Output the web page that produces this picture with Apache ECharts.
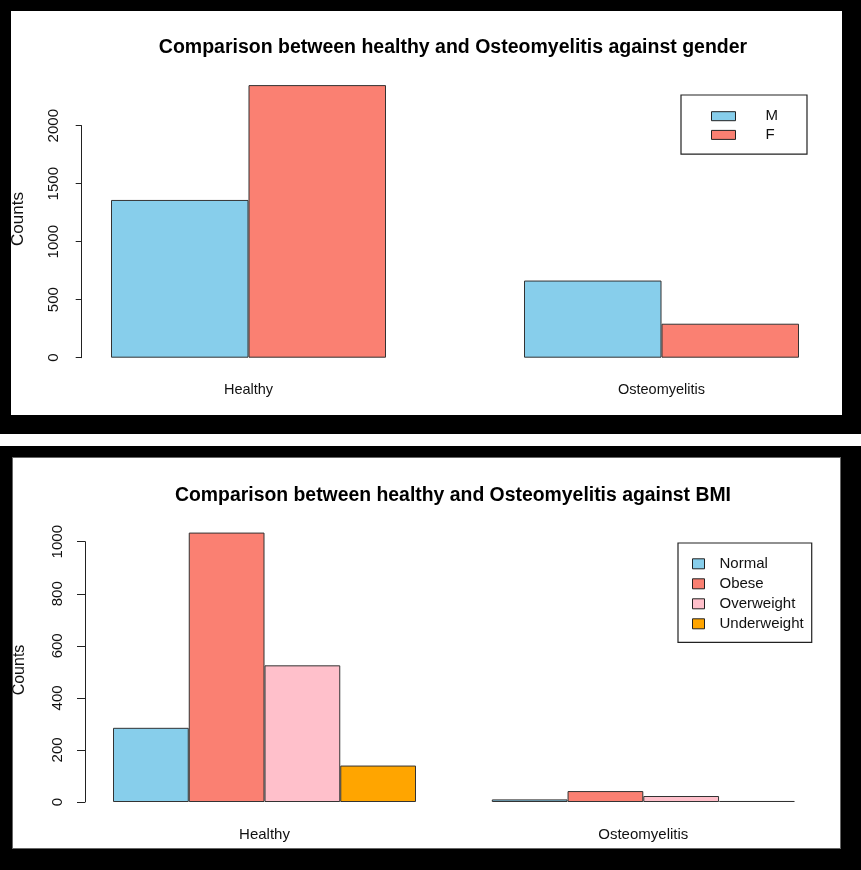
<!DOCTYPE html>
<html>
<head>
<meta charset="utf-8">
<script src="https://cdn.jsdelivr.net/npm/echarts@6/dist/echarts.min.js"></script>
<style>
  html, body { margin: 0; padding: 0; background: #fff; }
  .frame { position: absolute; background: #000; }
  .panel { position: absolute; background: #fff; box-sizing: border-box; }
  #chart { position: absolute; left: 0; top: 0; width: 861px; height: 870px; }
</style>
</head>
<body>
<div class="frame" style="left:0;top:0;width:861px;height:434px"></div>
<div class="panel" style="left:11px;top:11px;width:831px;height:404px"></div>
<div class="frame" style="left:0;top:446px;width:861px;height:424px"></div>
<div class="panel" style="left:12px;top:457px;width:829px;height:392px;border:1px solid #666"></div>
<div id="chart"></div>
<script>
// top chart: gender
const groups = ['Healthy', 'Osteomyelitis'];
const genderNames = ['M', 'F'];
const maleCounts = [1360, 665];
const femaleCounts = [2350, 293];
const genderTicks = { min: 0, max: 2000, interval: 500 };

// bottom chart: BMI
const bmiNames = ['Normal', 'Obese', 'Overweight', 'Underweight'];
const normalCounts = [285, 10];
const obeseCounts = [1035, 42];
const overweightCounts = [525, 23];
const underweightCounts = [140, 4];
const bmiTicks = { min: 0, max: 1000, interval: 200 };

const colors = {
  M: '#87CEEB', F: '#FA8072',
  Normal: '#87CEEB', Obese: '#FA8072', Overweight: '#FFC0CB', Underweight: '#FFA500'
};

const font = 'Liberation Sans, Arial, sans-serif';
const ink = '#111';

const chart = echarts.init(document.getElementById('chart'));

function barSeries(name, values, gridIdx, width) {
  return {
    type: 'bar',
    name: name,
    data: values,
    xAxisIndex: gridIdx,
    yAxisIndex: gridIdx,
    barWidth: width,
    barGap: '0%',
    clip: false,
    silent: true,
    itemStyle: { color: colors[name], borderColor: '#333', borderWidth: 1 }
  };
}

function catAxis(gridIdx, margin, size) {
  return {
    type: 'category',
    gridIndex: gridIdx,
    data: groups,
    boundaryGap: false,
    axisLine: { show: false },
    axisTick: { show: false },
    splitLine: { show: false },
    axisLabel: { margin: margin, fontSize: size, color: ink, fontFamily: font }
  };
}

function valAxis(gridIdx, ticks, offset, tickLen) {
  return {
    type: 'value',
    gridIndex: gridIdx,
    min: ticks.min,
    max: ticks.max,
    interval: ticks.interval,
    offset: offset,
    axisLine: { show: true, lineStyle: { color: '#222', width: 1 } },
    axisTick: { show: true, length: tickLen, lineStyle: { color: '#222' } },
    splitLine: { show: false },
    axisLabel: {
      rotate: 90, margin: 20, fontSize: 15, color: ink, fontFamily: font,
      formatter: v => String(v)
    }
  };
}

function legendBox(names, opts) {
  return Object.assign({
    data: names,
    orient: 'vertical',
    selectedMode: false,
    borderColor: '#222',
    borderWidth: 1.2,
    borderRadius: 0,
    backgroundColor: '#fff',
    icon: 'rect',
    itemStyle: { borderColor: '#222', borderWidth: 1 }
  }, opts);
}

const option = {
  animation: false,
  title: [
    {
      text: 'Comparison between healthy and Osteomyelitis against gender',
      left: 448, top: 33, textAlign: 'center',
      textStyle: { fontSize: 19.5, fontWeight: 'bold', color: '#000', fontFamily: font }
    },
    {
      text: 'Comparison between healthy and Osteomyelitis against BMI',
      left: 448, top: 481, textAlign: 'center',
      textStyle: { fontSize: 19.4, fontWeight: 'bold', color: '#000', fontFamily: font }
    }
  ],
  grid: [
    { left: 248.5, width: 413, top: 125.7, height: 232 },
    { left: 264.5, width: 378.8, top: 541.7, height: 260.3 }
  ],
  xAxis: [catAxis(0, 25, 14.5), catAxis(1, 25, 15)],
  yAxis: [valAxis(0, genderTicks, 166.8, 6), valAxis(1, bmiTicks, 179.5, 8)],
  legend: [
    legendBox(genderNames, {
      left: 681, top: 95,
      itemWidth: 24, itemHeight: 9, itemGap: 3.7,
      padding: [13.7, 29, 11.7, 30],
      textStyle: { fontSize: 15, color: ink, fontFamily: font, lineHeight: 14, padding: [0, 0, 0, 25] }
    }),
    legendBox(bmiNames, {
      left: 678, top: 543,
      itemWidth: 12, itemHeight: 10, itemGap: 5,
      padding: [13.3, 8, 11, 14],
      textStyle: { fontSize: 15, color: ink, fontFamily: font, lineHeight: 14, padding: [0, 0, 0, 10] }
    })
  ],
  graphic: [
    {
      type: 'text', x: 18, y: 219, rotation: Math.PI / 2,
      style: { text: 'Counts', fontSize: 17, fill: ink, fontFamily: font, align: 'center', verticalAlign: 'middle' }
    },
    {
      type: 'text', x: 20, y: 670, rotation: Math.PI / 2,
      style: { text: 'Counts', fontSize: 16, fill: ink, fontFamily: font, align: 'center', verticalAlign: 'middle' }
    }
  ],
  series: [
    barSeries('M', maleCounts, 0, 137.5),
    barSeries('F', femaleCounts, 0, 137.5),
    barSeries('Normal', normalCounts, 1, 75.75),
    barSeries('Obese', obeseCounts, 1, 75.75),
    barSeries('Overweight', overweightCounts, 1, 75.75),
    barSeries('Underweight', underweightCounts, 1, 75.75)
  ]
};

chart.setOption(option);
</script>
</body>
</html>
